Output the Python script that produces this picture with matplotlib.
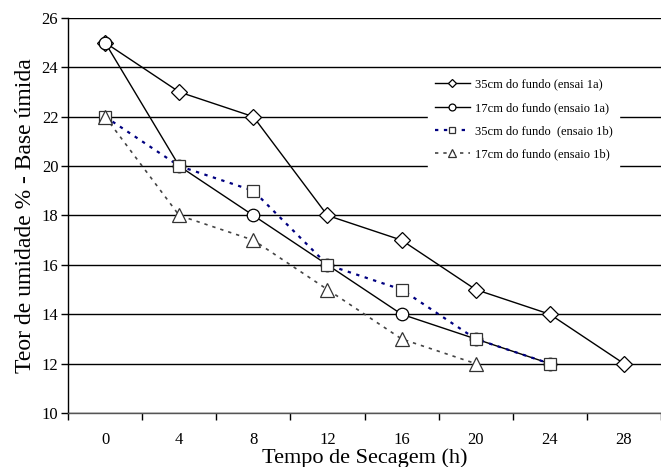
import numpy as np
import matplotlib.pyplot as plt

plt.rcParams['font.family'] = ['Liberation Serif', 'DejaVu Serif']

# drying time categories (h)
tempo = [0, 4, 8, 12, 16, 20, 24, 28]

# moisture content (% wet basis)
s35_1a = [25, 23, 22, 18, 17, 15, 14, 12]
s17_1a = [25, 20, 18, 16, 14, 13, 12]
s35_1b = [22, 20, 19, 16, 15, 13, 12]
s17_1b = [22, 18, 17, 15, 13, 12]

labels = ["35cm do fundo (ensai 1a)",
          "17cm do fundo (ensaio 1a)",
          "35cm do fundo  (ensaio 1b)",
          "17cm do fundo (ensaio 1b)"]

fig = plt.figure(figsize=(6.61, 4.67), dpi=100)
ax = fig.add_axes([0.103, 0.1156, 0.897, 0.846])

x = np.arange(len(tempo))

ax.plot(x[:len(s35_1a)], s35_1a, color='black', lw=1.0, marker='D', ms=8,
        mfc='white', mec='black', mew=0.9, label=labels[0], zorder=3)
ax.plot(x[:len(s17_1a)], s17_1a, color='black', lw=1.0, marker='o', ms=9,
        mfc='white', mec='black', mew=0.9, label=labels[1], zorder=3)
ax.plot(x[:len(s35_1b)], s35_1b, color='#000080', lw=1.6, ls=(0, (1.5, 2.5)),
        marker='s', ms=9, mfc='white', mec='#333333', mew=0.9,
        label=labels[2], zorder=3)
ax.plot(x[:len(s17_1b)], s17_1b, color='#444444', lw=1.2, ls=(0, (2, 3)),
        marker='^', ms=9.5, mfc='white', mec='#333333', mew=0.9,
        label=labels[3], zorder=3)

ax.set_xlim(-0.5, len(tempo) - 0.5)
ax.set_ylim(10, 26)
ax.set_yticks(np.arange(10, 27, 2))
ax.set_xticks(x)
ax.set_xticklabels([str(t) for t in tempo])
ax.set_xticks(np.arange(-0.5, len(tempo), 1), minor=True)
ax.tick_params(axis='x', which='major', length=0, pad=14, labelsize=12)
ax.tick_params(axis='x', which='minor', length=5, direction='out', width=1)
ax.tick_params(axis='y', length=5, direction='out', width=1, labelsize=12, pad=2)

ax.grid(axis='y', color='black', lw=1.0, zorder=1)
for s in ['top', 'right']:
    ax.spines[s].set_visible(False)
ax.spines['left'].set_linewidth(1.0)
ax.spines['bottom'].set_linewidth(1.0)
ax.spines['bottom'].set_color('#555555')

ax.set_xlabel("Tempo de Secagem (h)", fontsize=16, labelpad=0)
ax.set_ylabel("Teor de umidade % - Base úmida", fontsize=17, labelpad=4)

leg = ax.legend(loc='upper left', bbox_to_anchor=(0.597, 0.878), fontsize=9,
                frameon=True, fancybox=False, edgecolor='white',
                framealpha=1, markerscale=0.55, handlelength=2.8,
                labelspacing=0.9, handletextpad=0.4, borderpad=0.5)
leg.set_zorder(4)

fig.savefig('out.png', dpi=100)
